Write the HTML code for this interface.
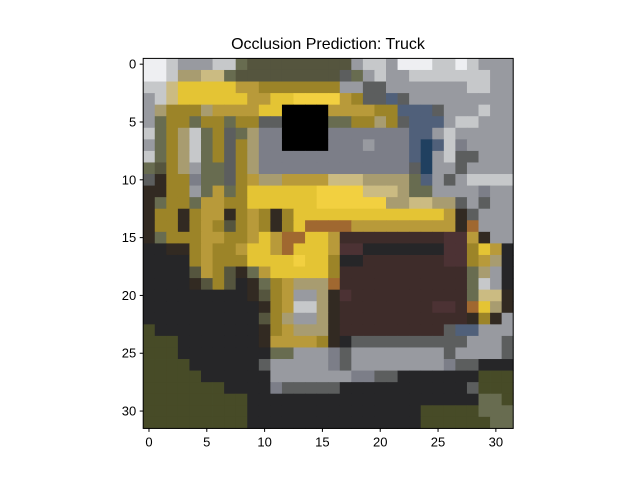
<!DOCTYPE html>
<html><head><meta charset="utf-8"><style>
body{margin:0;background:#fff;}
svg{display:block;font-family:"Liberation Sans","DejaVu Sans",sans-serif;}
</style></head><body>
<svg id="chart" width="640" height="480" viewBox="0 0 640 480" xmlns="http://www.w3.org/2000/svg">
<text x="328" y="49" font-size="16" text-anchor="middle" fill="#000">Occlusion Prediction: Truck</text>
<g id="cells"></g>
<g id="axes"></g>
</svg>
<script>
const rows = [
"WWLGGGLLgoooooooooGLLGWWWLLWLGGG",
"WWLTTAAgoooooooooDgGLGGLLLLLLLGG",
"LLAYYYYYOOyyyyyyyGGDDGGGGGGGLLGG",
"GLAYYYYYYOOYYVVVVOyDDSDGGGGGGGGG",
"GTyyyTOOOOYYXXXXOOOOyySSSDGGGLGG",
"GgyygyygyyDDXXXXggyyTyDSSSGLLGGG",
"LgyTLgyDgTMMXXXXMMMMMMMSSGLGGGGG",
"GgyTLgyDyTMMXXXXMMMGMMMSZSLMGGGG",
"LgyTLgyDyTMMMMMMMMMMMMMSZGLDDGGG",
"goyTGggDyTMMMMMMMMMMMMMDZGGDGGGG",
"DkyyMggDyOTTOOOOAAATTTTgSGDGLLLL",
"kkyyGgOgyYYYYYYVVVVAAATggGGGGMGG",
"kgyygOOyyYYYYYYVVVVVVTTAATTDGDGG",
"kyykyOOkyOykyYYYYYYYYYYYYYOkDGGG",
"kyykyOyoyOykyYRRRROOOOOOOOOkRGGG",
"kgyyyOOyyOYORRYYOBBBBBBBBBPPOkGG",
"KKkkyOyyOYYORYYYOPPKKKKKKKPPyYOK",
"KKKKyOyyyYYYYVYYyKKBBBBBBBPPyOTK",
"KKKKoOyokgOYYYYYyBBBBBBBBBBBgTGK",
"KKKKkoyoKkgyOTTTRBBBBBBBBBBBgLGK",
"KKKKKKKKKkoyOGGTkPBBBBBBBBBBgAAk",
"KKKKKKKKKKkyOLLTkBBBBBBBBPPBRYTk",
"KKKKKKKKKKoyTGGTkBBBBBBBBBBBkykG",
"NKKKKKKKKKkyOTTTkBBBBBBBBBDSSGGG",
"NNNKKKKKKKkOOOOykKDDDDDDDDDDGGGD",
"NNNKKKKKKKKggGGGMDGGGGGGGGDGGGGD",
"NNNNKKKKKKDGGGGGMDGGGGGGGGMDDKKK",
"NNNNNKKKKKKGGGGGGGMMDDKKKKKKKNNN",
"NNNNNNNKKKKMDDDDDKKKKKKKKKKKDNNN",
"NNNNNNNNNKKKKKKKKKKKKKKKKKKKKggN",
"NNNNNNNNNKKKKKKKKKKKKKKKNNNNNggg",
"NNNNNNNNNKKKKKKKKKKKKKKKNNNNNNgg"
];
const paletteKeys = ["W","L","G","M","D","o","K","k","N","Y","V","y","O","T","A","B","P","R","S","Z","X","g"];
const paletteColors = ["#eeeff2","#c6c8ca","#989aa0","#7c7e88","#5c5e5e","#55553e","#262628","#322a22","#474b27","#e4c434","#f2d040","#9c8428","#b89a3a","#a89c70","#cbbb82","#3e2c2a","#4c3234","#a06830","#50607a","#204060","#000000","#686c50"];
const xTicks = [0,5,10,15,20,25,30];
const yTicks = [0,5,10,15,20,25,30];
const NS="http://www.w3.org/2000/svg";
const leftX=143.2, topY=58.4, size=370;
const n=rows.length, s=size/n;
const xs=c=>leftX+c*s, ys=r=>topY+r*s;
const cells=document.getElementById('cells');
rows.forEach((row,r)=>{
  for(let c=0;c<row.length;c++){
    const el=document.createElementNS(NS,'rect');
    
    
    el.setAttribute('x',xs(c));el.setAttribute('y',ys(r));
    el.setAttribute('width',s+0.4);el.setAttribute('height',s+0.4);
    el.setAttribute('fill',paletteColors[paletteKeys.indexOf(row[c])]);
    cells.appendChild(el);
  }
});
const axes=document.getElementById('axes');
const frame=document.createElementNS(NS,'rect');


frame.setAttribute('x',leftX);frame.setAttribute('y',topY);frame.setAttribute('width',size);frame.setAttribute('height',size);
frame.setAttribute('fill','none');frame.setAttribute('stroke','#000');frame.setAttribute('stroke-width','1');
axes.appendChild(frame);
xTicks.forEach(t=>{
  const x=xs(t+0.5);
  const ln=document.createElementNS(NS,'line');
  
  
  ln.setAttribute('x1',x);ln.setAttribute('x2',x);ln.setAttribute('y1',topY+size);ln.setAttribute('y2',topY+size+3.5);ln.setAttribute('stroke','#000');
  axes.appendChild(ln);
  const tx=document.createElementNS(NS,'text');
  
  
  tx.setAttribute('x',x);tx.setAttribute('y',topY+size+18);tx.setAttribute('font-size','13');tx.setAttribute('text-anchor','middle');
  tx.textContent=t;axes.appendChild(tx);
});
yTicks.forEach(t=>{
  const y=ys(t+0.5);
  const ln=document.createElementNS(NS,'line');
  
  
  ln.setAttribute('x1',leftX-3.5);ln.setAttribute('x2',leftX);ln.setAttribute('y1',y);ln.setAttribute('y2',y);ln.setAttribute('stroke','#000');
  axes.appendChild(ln);
  const tx=document.createElementNS(NS,'text');
  
  
  tx.setAttribute('x',leftX-7);tx.setAttribute('y',y+4.5);tx.setAttribute('font-size','13');tx.setAttribute('text-anchor','end');
  tx.textContent=t;axes.appendChild(tx);
});
</script>
</body></html>
